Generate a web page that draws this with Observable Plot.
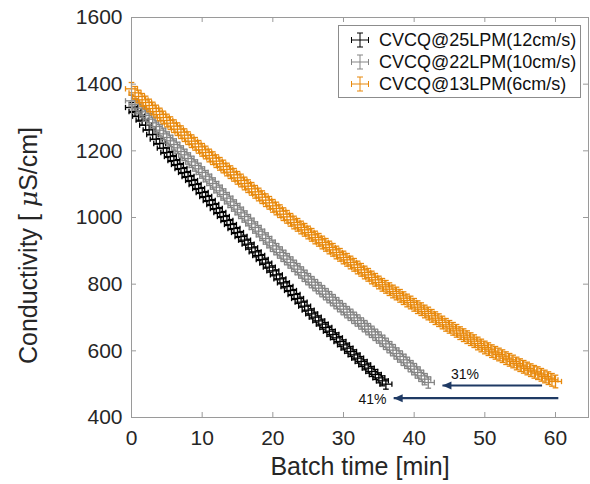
<!DOCTYPE html>
<html><head><meta charset="utf-8">
<script src="https://cdn.jsdelivr.net/npm/d3@7"></script>
<script src="https://cdn.jsdelivr.net/npm/@observablehq/plot@0.6"></script>
<style>body{margin:0;background:#fff}</style>
</head><body><div id="chart"></div>
<script>
// ---- data ----
const seriesNames = ["CVCQ@25LPM(12cm/s)", "CVCQ@22LPM(10cm/s)", "CVCQ@13LPM(6cm/s)"];
const seriesColors = ["#000000", "#858585", "#e8890c"];
const sampleStep = 0.5; // minutes between samples
const cond25 = [1330,1318,1304,1292,1277,1263,1249,1235,1222,1208,
1195,1183,1171,1159,1147,1135,1123,1111,1099,1087,
1075,1063,1051,1039,1027,1015,1003,991,979,967,
955,943,932,920,909,897,886,874,863,851,
840,828,816,804,793,781,769,757,746,734,
722,711,701,690,680,670,659,649,639,628,
618,608,598,588,578,568,558,548,538,529,
519,510,500];
const cond22 = [1350,1339,1328,1317,1306,1295,1284,1273,1262,1251,
1240,1230,1219,1209,1198,1188,1177,1167,1156,1146,
1135,1124,1113,1102,1091,1080,1069,1058,1047,1036,
1025,1014,1003,992,981,970,959,948,937,926,
915,905,895,885,875,865,855,845,835,825,
815,806,797,788,779,770,761,752,743,734,
725,716,708,699,691,682,674,665,657,648,
640,630,621,611,602,592,583,573,564,554,
545,535,525,515,505];
const cond13 = [1386,1374,1363,1353,1345,1336,1327,1318,1309,1300,
1291,1283,1274,1265,1256,1247,1238,1229,1221,1212,
1203,1195,1186,1178,1169,1161,1153,1144,1136,1128,
1119,1111,1102,1094,1086,1077,1069,1061,1052,1044,
1035,1027,1019,1010,1002,993,985,978,970,963,
955,948,940,933,925,918,910,903,895,888,
880,873,865,858,850,843,835,828,820,813,
805,798,792,785,778,772,765,758,751,745,
738,731,725,718,712,705,698,692,685,678,
672,666,660,653,647,641,635,629,622,616,
610,605,599,594,589,584,578,573,568,562,
557,552,547,542,537,533,528,523,518,513,
508];
const condErr = [15, 17, 19];   // µS/cm
const timeErr = 0.85;           // min
const xTicks = [0, 10, 20, 30, 40, 50, 60];
const yTicks = [400, 600, 800, 1000, 1200, 1400, 1600];
const arrowNotes = [
  {label: "31%", x1: 58.1, y1: 496, x2: 44.0, y2: 496, lx: 47.2, ly: 529},
  {label: "41%", x1: 60.4, y1: 458, x2: 37.1, y2: 458, lx: 34.1, ly: 454}
];

// ---- layout ----
const W = 590, H = 484, mL = 131, mR = 2, mT = 17, mB = 67;
const fw = W - mL - mR, fh = H - mT - mB;
const axisGray = "#9a9a9a";
const navy = "#1f3a64";
const font = "'Liberation Sans', Arial, Helvetica, sans-serif";
const capX = 0.4, capY = 8;

const allSeries = [cond25, cond22, cond13];
function segmentsFor(vals, s) {
  const e = condErr[s];
  return vals.flatMap((v, i) => {
    const t = i * sampleStep;
    return [
      {x1: t, y1: v - e, x2: t, y2: v + e},
      {x1: t - capX, y1: v + e, x2: t + capX, y2: v + e},
      {x1: t - capX, y1: v - e, x2: t + capX, y2: v - e},
      {x1: t - timeErr, y1: v, x2: t + timeErr, y2: v},
      {x1: t - timeErr, y1: v - capY, x2: t - timeErr, y2: v + capY},
      {x1: t + timeErr, y1: v - capY, x2: t + timeErr, y2: v + capY}
    ];
  });
}
const errMarks = allSeries.map((vals, s) =>
  Plot.link(segmentsFor(vals, s), {x1: "x1", y1: "y1", x2: "x2", y2: "y2",
    stroke: seriesColors[s], strokeWidth: 1.3}));

const leftTri = {draw(ctx) { ctx.moveTo(0, 0); ctx.lineTo(9, -4); ctx.lineTo(9, 4); ctx.closePath(); }};

const chart = Plot.plot({
  width: W, height: H,
  marginLeft: mL, marginRight: mR, marginTop: mT, marginBottom: mB,
  style: {fontFamily: font, fontSize: "21px", color: "#262626", background: "#fff"},
  x: {domain: [0, 64.67], ticks: xTicks, tickSize: 0, tickPadding: 13, label: null, tickFormat: d => String(d)},
  y: {domain: [400, 1600], ticks: yTicks, tickSize: 0, tickPadding: 9, label: null, tickFormat: d => String(d)},
  marks: [
    ...errMarks,
    Plot.frame({stroke: axisGray, strokeWidth: 1}),
    Plot.tickX(xTicks, {x: d => d, stroke: axisGray, insetTop: fh - 5}),
    Plot.tickX(xTicks, {x: d => d, stroke: axisGray, insetBottom: fh - 5}),
    Plot.tickY(yTicks, {y: d => d, stroke: axisGray, insetRight: fw - 5}),
    Plot.tickY(yTicks, {y: d => d, stroke: axisGray, insetLeft: fw - 5}),
    Plot.link(arrowNotes, {x1: "x1", y1: "y1", x2: "x2", y2: "y2", stroke: navy, strokeWidth: 2.2}),
    Plot.dot(arrowNotes, {x: "x2", y: "y2", symbol: leftTri, fill: navy, stroke: "none"}),
    Plot.text(arrowNotes, {x: "lx", y: "ly", text: "label", fontSize: 14, fill: "#111"}),
    Plot.text(["Batch time [min]"], {frameAnchor: "bottom", lineAnchor: "middle", textAnchor: "middle", dy: 49, fontSize: 25, fill: "#262626"}),
    Plot.text(["Conductivity [ μS/cm]"], {frameAnchor: "left", lineAnchor: "middle", textAnchor: "middle", rotate: -90, dx: -103, dy: 28, fontSize: 25, fill: "#262626"})
  ]
});
document.getElementById("chart").appendChild(chart);

// italic mu like the TeX label
d3.select(chart).selectAll("text").filter(function() {
  return this.textContent === "Conductivity [ μS/cm]";
}).each(function() {
  const t = d3.select(this);
  t.text(null);
  t.append("tspan").text("Conductivity [ ");
  t.append("tspan").attr("font-style", "italic").attr("font-family", "'DejaVu Serif', serif").text("μ");
  t.append("tspan").text("S/cm]");
});

// legend
const svg = d3.select(chart);
const lg = svg.append("g").attr("font-family", font).attr("font-size", 18).attr("text-anchor", "start");
lg.append("rect").attr("x", 338.5).attr("y", 25.5).attr("width", 242).attr("height", 72)
  .attr("fill", "#fff").attr("stroke", "#8c8c8c");
seriesNames.forEach((name, i) => {
  const cy = 40 + i * 22, cx = 360;
  const g = lg.append("g").attr("stroke", seriesColors[i]).attr("stroke-width", 1);
  const segs = [[cx - 8.5, cy, cx + 8.5, cy], [cx - 8.5, cy - 3, cx - 8.5, cy + 3], [cx + 8.5, cy - 3, cx + 8.5, cy + 3],
    [cx, cy - 7, cx, cy + 7], [cx - 3, cy - 7, cx + 3, cy - 7], [cx - 3, cy + 7, cx + 3, cy + 7]];
  segs.forEach(s => g.append("line").attr("x1", s[0]).attr("y1", s[1]).attr("x2", s[2]).attr("y2", s[3]));
  lg.append("text").attr("x", 379).attr("y", cy).attr("dy", "0.35em").attr("fill", "#111").attr("text-anchor", "start").text(name);
});
</script>
</body></html>
